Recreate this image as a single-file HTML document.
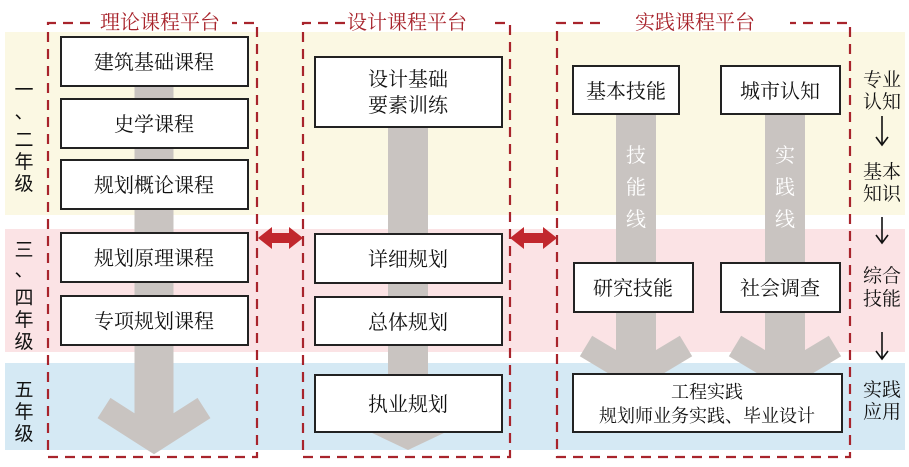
<!DOCTYPE html>
<html><head><meta charset="utf-8"><style>
body{margin:0;background:#fff;}
svg text{font-family:"Liberation Serif","Noto Serif CJK SC",serif;}
</style></head><body>
<svg width="909" height="462" viewBox="0 0 909 462" xmlns="http://www.w3.org/2000/svg">
<rect x="5" y="32" width="900" height="183" fill="#fbf8e3"/>
<rect x="5" y="229" width="900" height="123" fill="#fbe3e5"/>
<rect x="5" y="363" width="900" height="87" fill="#d5e9f4"/>
<g stroke="#c9c4c1" fill="none">
<line x1="154" y1="60" x2="154" y2="435" stroke-width="39"/>
<polyline points="104,408 154,440 204,408" stroke-width="24"/>
<line x1="408" y1="90" x2="408" y2="440" stroke-width="40"/>
<polygon points="370,432 446,432 408,450" fill="#c9c4c1" stroke="none"/>
<line x1="636" y1="100" x2="636" y2="365" stroke-width="40"/>
<polyline points="586,346 636,376 686,346" stroke-width="24"/>
<line x1="785" y1="100" x2="785" y2="365" stroke-width="40"/>
<polyline points="735,346 785,376 835,346" stroke-width="24"/>
</g>
<g fill="none" stroke="#a8242c" stroke-width="2.2" stroke-dasharray="10,7">
<polyline points="90,23 48,23 48,457 257,457 257,23 232,23"/>
<polyline points="345,23 303,23 303,457 510,457 510,23 490,23"/>
<polyline points="600,23 557,23 557,457 850,457 850,23 790,23"/>
</g>
<g fill="#a8242c" font-size="20">
<text x="160" y="29" text-anchor="middle">理论课程平台</text>
<text x="407" y="29" text-anchor="middle">设计课程平台</text>
<text x="695" y="29" text-anchor="middle">实践课程平台</text>
</g>
<g fill="#c1272d">
<polygon points="258,238 272,227 272,233 289,233 289,227 303,238 289,249 289,243 272,243 272,249"/>
<polygon points="510,238 524,227 524,233 543,233 543,227 557,238 543,249 543,243 524,243 524,249"/>
</g>
<g fill="#fff" stroke="#222" stroke-width="2">
<rect x="61" y="37" width="187" height="49"/>
<rect x="61" y="99" width="187" height="49"/>
<rect x="61" y="160" width="187" height="49"/>
<rect x="61" y="233" width="187" height="49"/>
<rect x="61" y="296" width="187" height="49"/>
<rect x="315" y="57" width="187" height="70"/>
<rect x="315" y="234" width="187" height="49"/>
<rect x="315" y="297" width="187" height="48"/>
<rect x="315" y="375" width="187" height="57"/>
<rect x="573" y="66" width="106" height="48"/>
<rect x="721" y="66" width="119" height="48"/>
<rect x="574" y="263" width="119" height="49"/>
<rect x="721" y="263" width="119" height="49"/>
<rect x="573" y="374" width="269" height="58"/>
</g>
<g fill="#111" font-size="20" text-anchor="middle">
<text x="154" y="69">建筑基础课程</text>
<text x="154" y="131">史学课程</text>
<text x="154" y="192">规划概论课程</text>
<text x="154" y="265">规划原理课程</text>
<text x="154" y="328">专项规划课程</text>
<text x="408" y="86">设计基础</text>
<text x="408" y="112">要素训练</text>
<text x="408" y="266">详细规划</text>
<text x="408" y="329">总体规划</text>
<text x="408" y="411">执业规划</text>
<text x="626" y="98">基本技能</text>
<text x="780" y="98">城市认知</text>
<text x="633" y="295">研究技能</text>
<text x="780" y="295">社会调查</text>
<text x="707" y="398" font-size="18">工程实践</text>
<text x="707" y="422" font-size="18">规划师业务实践、毕业设计</text>
</g>
<g fill="#fff" font-size="20" text-anchor="middle">
<text x="636" y="162">技</text><text x="636" y="194">能</text><text x="636" y="226">线</text>
<text x="785" y="162">实</text><text x="785" y="194">践</text><text x="785" y="226">线</text>
</g>
<g fill="#111" font-size="19" text-anchor="middle" font-family="Liberation Sans,Noto Sans CJK SC,sans-serif">
<text x="24" y="96" style="font-family:'Liberation Sans','Noto Sans CJK SC',sans-serif">一</text>
<text x="24" y="118" style="font-family:'Liberation Sans','Noto Sans CJK SC',sans-serif">、</text>
<text x="24" y="146" style="font-family:'Liberation Sans','Noto Sans CJK SC',sans-serif">二</text>
<text x="24" y="168" style="font-family:'Liberation Sans','Noto Sans CJK SC',sans-serif">年</text>
<text x="24" y="190" style="font-family:'Liberation Sans','Noto Sans CJK SC',sans-serif">级</text>
<text x="24" y="256" style="font-family:'Liberation Sans','Noto Sans CJK SC',sans-serif">三</text>
<text x="24" y="276" style="font-family:'Liberation Sans','Noto Sans CJK SC',sans-serif">、</text>
<text x="24" y="304" style="font-family:'Liberation Sans','Noto Sans CJK SC',sans-serif">四</text>
<text x="24" y="326" style="font-family:'Liberation Sans','Noto Sans CJK SC',sans-serif">年</text>
<text x="24" y="348" style="font-family:'Liberation Sans','Noto Sans CJK SC',sans-serif">级</text>
<text x="24" y="396" style="font-family:'Liberation Sans','Noto Sans CJK SC',sans-serif">五</text>
<text x="24" y="418" style="font-family:'Liberation Sans','Noto Sans CJK SC',sans-serif">年</text>
<text x="24" y="440" style="font-family:'Liberation Sans','Noto Sans CJK SC',sans-serif">级</text>
</g>
<g fill="#111" font-size="19" text-anchor="middle">
<text x="882" y="86">专业</text><text x="882" y="108">认知</text>
<text x="882" y="178">基本</text><text x="882" y="200">知识</text>
<text x="882" y="282">综合</text><text x="882" y="305">技能</text>
<text x="882" y="396">实践</text><text x="882" y="418">应用</text>
</g>
<g stroke="#111" stroke-width="1.6" fill="none">
<path d="M882 116 V144 M876 137 L882 145 L888 137"/>
<path d="M882 217 V242 M876 235 L882 243 L888 235"/>
<path d="M882 332 V358 M876 351 L882 359 L888 351"/>
</g>
</svg>
</body></html>
